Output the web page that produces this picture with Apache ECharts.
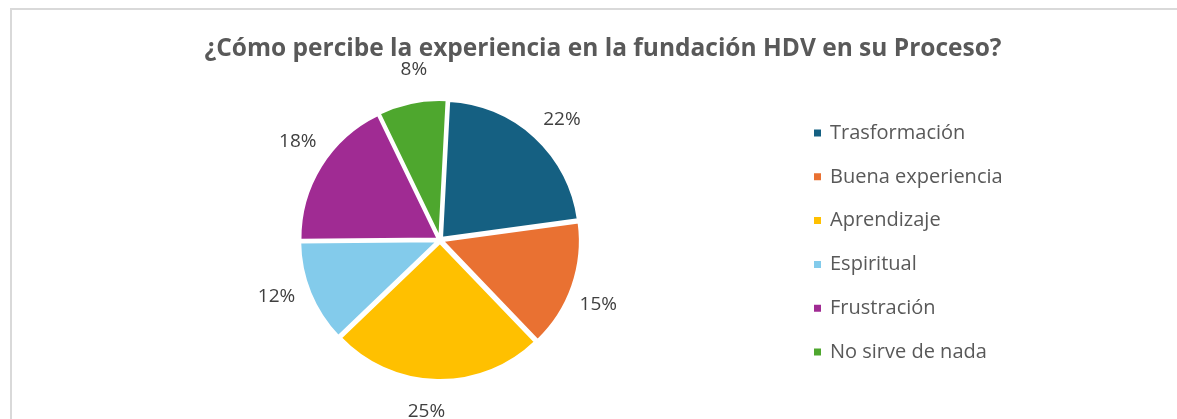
<!DOCTYPE html>
<html>
<head>
<meta charset="utf-8">
<script src="https://cdn.jsdelivr.net/npm/echarts@6/dist/echarts.min.js"></script>
<style>
  html, body { margin: 0; padding: 0; background: #fff; }
  #chart { width: 1177px; height: 419px; }
</style>
</head>
<body>
<div id="chart"></div>
<script>
const categories = ['Trasformación', 'Buena experiencia', 'Aprendizaje', 'Espiritual', 'Frustración', 'No sirve de nada'];
const values = [22, 15, 25, 12, 18, 8];
const colors = ['#156082', '#E97132', '#FFC000', '#83CBEB', '#A02B93', '#4EA72E'];

const fontFamily = '"Open Sans", "Noto Sans", sans-serif';
const pieData = categories.map((name, i) => ({
  name: name,
  value: values[i],
  selected: true,
  itemStyle: { color: colors[i] }
}));

const chart = echarts.init(document.getElementById('chart'));
chart.setOption({
  animation: false,
  title: {
    text: '¿Cómo percibe la experiencia en la fundación HDV en su Proceso?',
    left: 598,
    top: 32,
    textAlign: 'center',
    textStyle: { fontFamily: fontFamily, fontSize: 24.5, fontWeight: 'bold', color: '#595959' }
  },
  legend: {
    orient: 'vertical',
    left: 812,
    top: 123,
    padding: 0,
    itemWidth: 9,
    itemHeight: 9,
    itemGap: 23.8,
    icon: 'rect',
    data: categories,
    textStyle: { fontFamily: fontFamily, fontSize: 20, color: '#595959', padding: [0, 0, 0, 3] }
  },
  graphic: [
    { type: 'line', shape: { x1: 10, y1: 9, x2: 1177, y2: 9 }, style: { stroke: '#d9d9d9', lineWidth: 2 }, silent: true },
    { type: 'line', shape: { x1: 11, y1: 8, x2: 11, y2: 419 }, style: { stroke: '#d9d9d9', lineWidth: 2 }, silent: true }
  ],
  series: [
    {
      type: 'pie',
      center: [440, 240],
      radius: 137,
      startAngle: 87,
      clockwise: true,
      selectedMode: 'multiple',
      selectedOffset: 3,
      data: pieData,
      itemStyle: { borderColor: '#fff', borderWidth: 2 },
      label: { show: false },
      labelLine: { show: false },
      emphasis: { disabled: true }
    },
    {
      // invisible ring used only to place the percentage labels
      type: 'pie',
      center: [439, 240],
      radius: [150, 188],
      startAngle: 84,
      clockwise: true,
      silent: true,
      data: categories.map((name, i) => ({ name: name, value: values[i] })),
      itemStyle: { color: 'rgba(0,0,0,0)' },
      label: {
        show: true,
        position: 'inside',
        formatter: '{d}%',
        fontFamily: fontFamily,
        fontSize: 19,
        color: '#404040'
      },
      labelLine: { show: false },
      emphasis: { disabled: true }
    }
  ]
});
</script>
</body>
</html>
